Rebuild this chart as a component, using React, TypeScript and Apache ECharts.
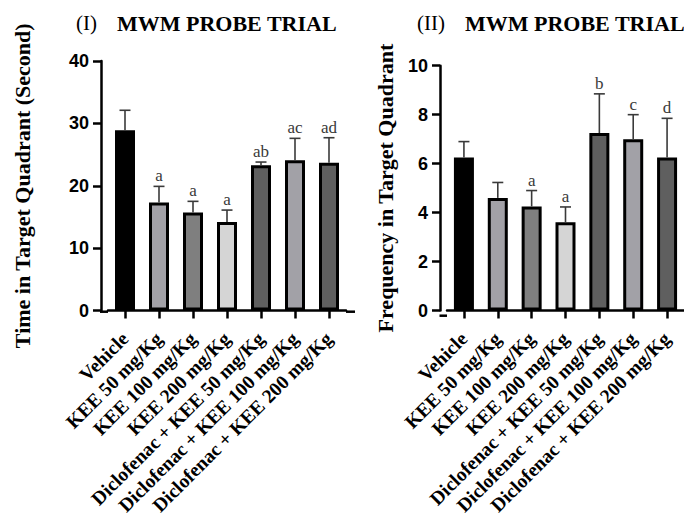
import React, { useEffect, useRef } from "react";
import * as echarts from "echarts";

const categories = [
  "Vehicle",
  "KEE 50 mg/Kg",
  "KEE 100 mg/Kg",
  "KEE 200 mg/Kg",
  "Diclofenac + KEE 50 mg/Kg",
  "Diclofenac + KEE 100 mg/Kg",
  "Diclofenac + KEE 200 mg/Kg",
];
const barColors = ["#000000", "#a2a1a7", "#7f7f7f", "#d5d5d5", "#5f5f5f", "#a2a1a7", "#5f5f5f"];

const timeMeans = [28.9, 17.3, 15.7, 14.2, 23.3, 24.1, 23.7];
const timeSem = [3.2, 2.6, 1.8, 1.9, 0.5, 3.5, 4.0];
const timeLetters = ["", "a", "a", "a", "ab", "ac", "ad"];
const timeTicks = [0, 10, 20, 30, 40];

const freqMeans = [6.25, 4.6, 4.25, 3.6, 7.25, 7.0, 6.25];
const freqSem = [0.65, 0.63, 0.65, 0.63, 1.6, 1.0, 1.6];
const freqLetters = ["", "", "a", "a", "b", "c", "d"];
const freqTicks = [0, 2, 4, 6, 8, 10];

const SERIF = "'Liberation Serif', 'Times New Roman', serif";
const SANS = "'Liberation Sans', Arial, sans-serif";

function errorSeries(idx: number, means: number[], sems: number[], letters: string[]) {
  return {
    type: "custom",
    xAxisIndex: idx,
    yAxisIndex: idx,
    z: 5,
    data: means.map((m, i) => [i, m, sems[i]]),
    renderItem: (params: any, api: any) => {
      const x = api.value(0);
      const m = api.value(1);
      const e = api.value(2);
      const p0 = api.coord([x, m]);
      const p1 = api.coord([x, m + e]);
      const letter = letters[params.dataIndex];
      const st = { stroke: "#3a3a3a", lineWidth: 1.6 };
      const children: any[] = [
        { type: "line", shape: { x1: p0[0], y1: p0[1], x2: p1[0], y2: p1[1] }, style: st },
        { type: "line", shape: { x1: p1[0] - 5.5, y1: p1[1], x2: p1[0] + 5.5, y2: p1[1] }, style: st },
      ];
      if (letter) {
        children.push({
          type: "text",
          x: p1[0],
          y: p1[1] - 2,
          style: {
            text: letter,
            fill: "#3a3a3a",
            font: `17px ${SERIF}`,
            textAlign: "center",
            textVerticalAlign: "bottom",
          },
        });
      }
      return { type: "group", children };
    },
  };
}

function barSeries(idx: number, means: number[]) {
  return {
    type: "bar",
    xAxisIndex: idx,
    yAxisIndex: idx,
    barWidth: 20,
    data: means.map((v, i) => ({
      value: v,
      itemStyle: { color: barColors[i], borderColor: "#000", borderWidth: 3 },
    })),
  };
}

function xAxis(idx: number) {
  return {
    type: "category",
    gridIndex: idx,
    data: categories,
    axisLine: { show: true, lineStyle: { color: "#000", width: 2.5 } },
    axisTick: { show: true, alignWithLabel: true, length: 8, lineStyle: { color: "#000", width: 2.5 } },
    axisLabel: {
      rotate: 45,
      interval: 0,
      margin: 25,
      color: "#000",
      fontFamily: SERIF,
      fontWeight: "bold",
      fontSize: 19.5,
    },
  };
}

function yAxis(idx: number, ticks: number[], name: string, nameGap: number) {
  return {
    type: "value",
    gridIndex: idx,
    min: ticks[0],
    max: ticks[ticks.length - 1],
    interval: ticks[1] - ticks[0],
    offset: 7,
    name,
    nameLocation: "middle",
    nameGap,
    nameTextStyle: { fontFamily: SERIF, fontWeight: "bold", fontSize: 22, color: "#000" },
    splitLine: { show: false },
    axisLine: { show: true, lineStyle: { color: "#000", width: 2.5 } },
    axisTick: { show: true, length: 8, lineStyle: { color: "#000", width: 2.5 } },
    axisLabel: { color: "#000", fontFamily: SANS, fontWeight: "bold", fontSize: 18, margin: 12 },
  };
}

export default function App() {
  const ref = useRef<HTMLDivElement>(null);
  useEffect(() => {
    if (!ref.current) return;
    const chart = echarts.init(ref.current, undefined, { renderer: "svg" });
    const axisExt = { stroke: "#000", lineWidth: 2.5 };
    const titleRich = {
      a: { fontFamily: SERIF, fontSize: 21, color: "#000", fontWeight: "normal" },
      b: { fontFamily: SERIF, fontSize: 22, fontWeight: "bold", color: "#000" },
    };
    chart.setOption({
      animation: false,
      backgroundColor: "#fff",
      title: [
        { left: 71, top: 7, text: "{a|(I)}    {b|MWM PROBE TRIAL}", textStyle: { rich: titleRich } },
        { left: 412, top: 7, text: "{a|(II)}    {b|MWM PROBE TRIAL}", textStyle: { rich: titleRich } },
      ],
      grid: [
        { left: 108, top: 61, width: 238, height: 250.7 },
        { left: 447, top: 65.7, width: 237.3, height: 250 },
      ],
      xAxis: [xAxis(0), xAxis(1)],
      yAxis: [
        yAxis(0, timeTicks, "Time in Target Quadrant (Second)", 68),
        yAxis(1, freqTicks, "Frequency in Target Quadrant", 44),
      ],
      series: [
        barSeries(0, timeMeans),
        errorSeries(0, timeMeans, timeSem, timeLetters),
        barSeries(1, freqMeans),
        errorSeries(1, freqMeans, freqSem, freqLetters),
      ],
      graphic: [
        { type: "line", shape: { x1: 100, y1: 311.7, x2: 108, y2: 311.7 }, style: axisExt },
        { type: "line", shape: { x1: 346, y1: 311.7, x2: 355, y2: 311.7 }, style: axisExt },
        { type: "line", shape: { x1: 439.5, y1: 315.7, x2: 447, y2: 315.7 }, style: axisExt },
      ],
    });
    return () => chart.dispose();
  }, []);
  return (
    <div
      ref={ref}
      style={{ position: "fixed", left: 0, top: 0, width: 684, height: 518 }}
    />
  );
}
